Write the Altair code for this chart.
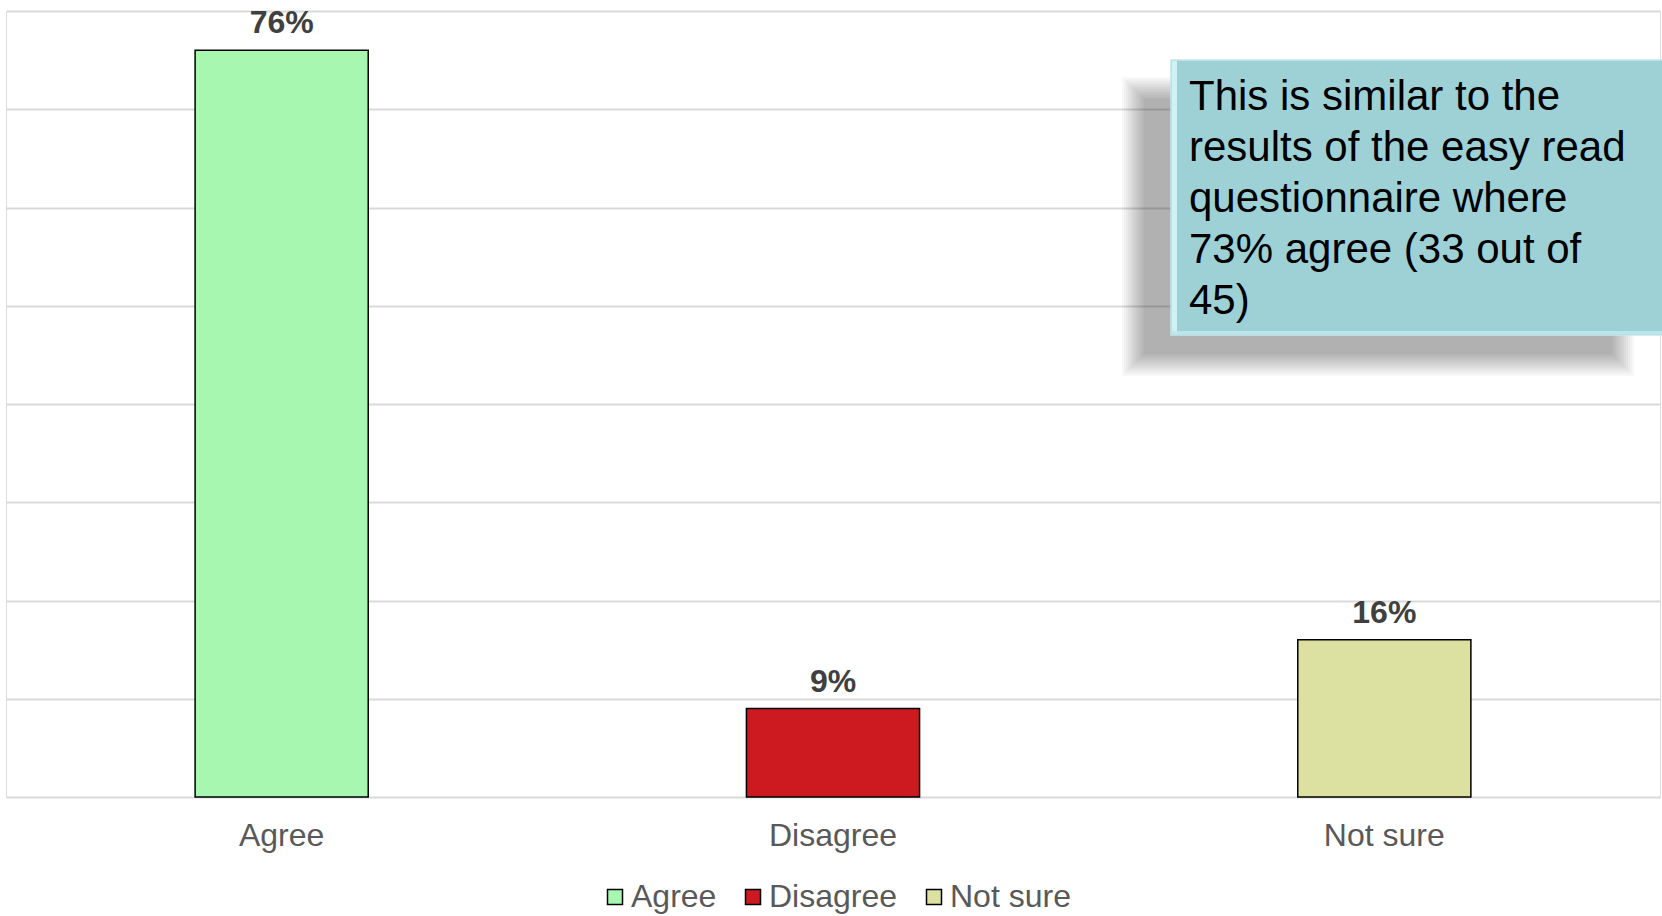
import altair as alt
import pandas as pd

categories = ["Agree", "Disagree", "Not sure"]
values = [0.76, 0.09, 0.16]
labels = ["76%", "9%", "16%"]
colors = ["#A7F7B0", "#CD1A20", "#DCE0A0"]
grid_values = [0.0, 0.1, 0.2, 0.3, 0.4, 0.5, 0.6, 0.7, 0.8]

note_lines = [
    "This is similar to the",
    "results of the easy read",
    "questionnaire where",
    "73% agree (33 out of",
    "45)",
]

# soft shadow layers (outer -> inner), in plot pixel coordinates
shadow_x1 = [1116, 1118, 1120, 1122, 1124, 1126, 1128, 1130, 1132, 1134, 1136, 1138]
shadow_x2 = [1628, 1626, 1624, 1622, 1620, 1618, 1616, 1614, 1612, 1610, 1608, 1606]
shadow_y1 = [66, 68, 70, 72, 74, 76, 78, 80, 82, 84, 86, 88]
shadow_y2 = [365, 363, 361, 359, 357, 355, 353, 351, 349, 347, 345, 343]

W, H = 1654, 786
FONT = "Liberation Sans"

df = pd.DataFrame({"cat": categories, "val": values, "label": labels})

xscale = alt.Scale(domain=categories, paddingInner=0.686, paddingOuter=0.343)
yscale = alt.Scale(domain=[0, 0.8], nice=False)
cscale = alt.Scale(domain=categories, range=colors)

bars = alt.Chart(df).mark_bar(stroke="black", strokeWidth=1.5).encode(
    x=alt.X("cat:N", scale=xscale, sort=categories, title=None,
            axis=alt.Axis(labelAngle=0, labelFont=FONT, labelFontSize=32,
                          labelColor="#595959", ticks=False, tickSize=0,
                          domain=False, labelPadding=23)),
    y=alt.Y("val:Q", scale=yscale, title=None,
            axis=alt.Axis(values=grid_values, labels=False, ticks=False,
                          domain=False, grid=True, gridColor="#D9D9D9",
                          gridWidth=2)),
    color=alt.Color("cat:N", scale=cscale, sort=categories, title=None,
                    legend=alt.Legend(orient="none", direction="horizontal",
                                      legendX=593, legendY=870,
                                      symbolType="square", symbolSize=225,
                                      symbolStrokeColor="black",
                                      symbolStrokeWidth=1.5,
                                      symbolOpacity=1,
                                      labelFont=FONT, labelFontSize=32,
                                      labelColor="#595959", labelOffset=0,
                                      columnPadding=20)),
)

text = alt.Chart(df).mark_text(
    font=FONT, fontSize=32, fontWeight="bold", color="#404040",
    baseline="alphabetic", dy=-17,
).encode(
    x=alt.X("cat:N", scale=xscale, sort=categories),
    y=alt.Y("val:Q", scale=yscale),
    text="label:N",
)

shadow_df = pd.DataFrame({"x1": shadow_x1, "x2": shadow_x2,
                          "y1": shadow_y1, "y2": shadow_y2})
shadow = alt.Chart(shadow_df).mark_rect(color="black", opacity=0.0265).encode(
    x=alt.X("x1:Q", scale=None), x2="x2:Q",
    y=alt.Y("y1:Q", scale=None), y2="y2:Q",
)

box = alt.Chart(pd.DataFrame({"a": [1]})).mark_rect(
    color="#9ED1D6", stroke="#C2E8EB", strokeWidth=1.5
).encode(
    x=alt.value(1165), x2=alt.value(1672),
    y=alt.value(49), y2=alt.value(324),
)
bevel = alt.Chart(pd.DataFrame({"a": [1]})).mark_rect(
    color="#D4F6F8", opacity=0.9
).encode(
    x=alt.value(1166), x2=alt.value(1171),
    y=alt.value(50), y2=alt.value(323),
)
bevel_b = alt.Chart(pd.DataFrame({"a": [1]})).mark_rect(
    color="#BCE8EB", opacity=0.9
).encode(
    x=alt.value(1166), x2=alt.value(1672),
    y=alt.value(320), y2=alt.value(323),
)

note = alt.Chart(pd.DataFrame({"t": ["\n".join(note_lines)]})).mark_text(
    font=FONT, fontSize=42, color="black", align="left",
    baseline="alphabetic", lineBreak="\n", lineHeight=51,
).encode(
    x=alt.value(1183), y=alt.value(99), text="t:N",
)

chart = alt.layer(bars, text, shadow, box, bevel, bevel_b, note).properties(
    width=W, height=H,
    autosize=alt.AutoSizeParams(type="none"),
    padding={"left": 6, "top": 11, "right": 2, "bottom": 119},
).configure_view(stroke=None).configure(background="white")

chart.save("out.html", embed_options={"renderer": "svg", "actions": False})
